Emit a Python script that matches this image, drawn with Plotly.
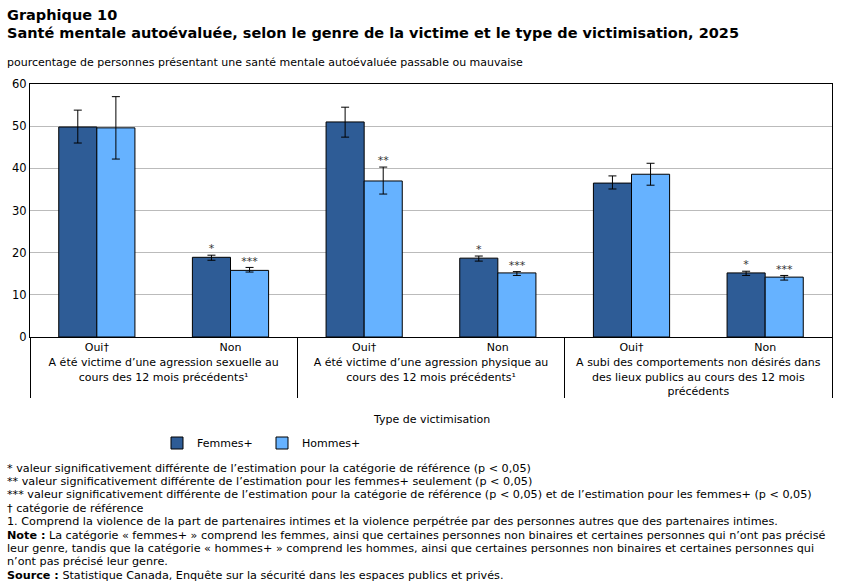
import plotly.graph_objects as go

# ---- data ----
groups = [
    "A été victime d’une agression sexuelle au<br>cours des 12 mois précédents¹",
    "A été victime d’une agression physique au<br>cours des 12 mois précédents¹",
    "A subi des comportements non désirés dans<br>des lieux publics au cours des 12 mois<br>précédents",
]
answers = ["Oui†", "Non"]
outer = [g for g in groups for _ in answers]
inner = [a for _ in groups for a in answers]

femmes = [49.8, 18.9, 51.0, 18.7, 36.5, 15.2]
femmes_hi = [53.8, 19.4, 54.5, 19.2, 38.2, 15.6]
femmes_lo = [46.0, 18.2, 47.4, 18.0, 35.1, 14.6]
femmes_sig = ["", "*", "", "*", "", "*"]

hommes = [49.6, 15.8, 37.0, 15.2, 38.6, 14.2]
hommes_hi = [57.0, 16.5, 40.3, 15.5, 41.2, 14.6]
hommes_lo = [42.2, 15.4, 33.9, 14.6, 36.0, 13.5]
hommes_sig = ["", "***", "**", "***", "", "***"]

y_ticks = [0, 10, 20, 30, 40, 50, 60]

title_lines = [
    "Graphique 10",
    "Santé mentale autoévaluée, selon le genre de la victime et le type de victimisation, 2025",
]
subtitle = "pourcentage de personnes présentant une santé mentale autoévaluée passable ou mauvaise"
x_title = "Type de victimisation"
footnote_lines = [
    "* valeur significativement différente de l’estimation pour la catégorie de référence (p &lt; 0,05)",
    "** valeur significativement différente de l’estimation pour les femmes+ seulement (p &lt; 0,05)",
    "*** valeur significativement différente de l’estimation pour la catégorie de référence (p &lt; 0,05) et de l’estimation pour les femmes+ (p &lt; 0,05)",
    "† catégorie de référence",
    "1. Comprend la violence de la part de partenaires intimes et la violence perpétrée par des personnes autres que des partenaires intimes.",
    "<b>Note :</b> La catégorie « femmes+ » comprend les femmes, ainsi que certaines personnes non binaires et certaines personnes qui n’ont pas précisé",
    "leur genre, tandis que la catégorie « hommes+ » comprend les hommes, ainsi que certaines personnes non binaires et certaines personnes qui",
    "n’ont pas précisé leur genre.",
    "<b>Source :</b> Statistique Canada, Enquête sur la sécurité dans les espaces publics et privés.",
]

FONT = "DejaVu Sans"
C_F = "#2E5C96"
C_H = "#66B2FF"

fig = go.Figure()
x = [outer, inner]
for name, vals, hi, lo, col, og in [
    ("Femmes+", femmes, femmes_hi, femmes_lo, C_F, "f"),
    ("Hommes+", hommes, hommes_hi, hommes_lo, C_H, "h"),
]:
    fig.add_trace(go.Bar(
        x=x, y=vals, name=name, offsetgroup=og,
        marker=dict(color=col, line=dict(color="black", width=1)),
        error_y=dict(type="data", symmetric=False,
                     array=[h - v for h, v in zip(hi, vals)],
                     arrayminus=[v - l for v, l in zip(vals, lo)],
                     color="black", thickness=1, width=4),
        hoverinfo="skip",
    ))

for sig, hi, og in [(femmes_sig, femmes_hi, "f"), (hommes_sig, hommes_hi, "h")]:
    fig.add_trace(go.Scatter(
        x=x, y=hi, text=sig, mode="text", offsetgroup=og,
        textposition="top center", showlegend=False, cliponaxis=False,
        textfont=dict(family=FONT, size=11, color="#333333"),
        hoverinfo="skip",
    ))

W, H = 850, 582
ML, MR, MT, MB = 30, 18, 84, 245
pw = W - ML - MR
ph = H - MT - MB

def px(xp):
    return (xp - ML) / pw

def py(yp):
    return (H - MB - yp) / ph

annotations = [
    dict(text="<b>%s</b>" % title_lines[0], xref="paper", yref="paper", x=px(5), y=py(15),
         xanchor="left", yanchor="middle", showarrow=False,
         font=dict(family=FONT, size=14.5, color="black")),
    dict(text="<b>%s</b>" % title_lines[1], xref="paper", yref="paper", x=px(5), y=py(33),
         xanchor="left", yanchor="middle", showarrow=False,
         font=dict(family=FONT, size=14.5, color="black")),
    dict(text=subtitle, xref="paper", yref="paper", x=px(5), y=py(62), xanchor="left",
         yanchor="middle", showarrow=False, font=dict(family=FONT, size=11)),
    dict(text=x_title, xref="paper", yref="paper", x=0.5, y=py(420),
         xanchor="center", yanchor="middle", showarrow=False, font=dict(family=FONT, size=11)),
]
for i, line in enumerate(footnote_lines):
    annotations.append(dict(
        text=line, xref="paper", yref="paper", x=px(5), y=py(468 + 13.4 * i),
        xanchor="left", yanchor="middle", align="left", showarrow=False,
        font=dict(family=FONT, size=11.2)))

fig.update_layout(
    width=W, height=H,
    margin=dict(l=ML, r=MR, t=MT, b=MB),
    paper_bgcolor="white", plot_bgcolor="white",
    font=dict(family=FONT, size=11, color="black"),
    barmode="group", bargap=0.43, bargroupgap=0,
    scattermode="group", scattergap=0.43,
    showlegend=True,
    legend=dict(orientation="h", x=px(157), xanchor="left", y=py(443), yanchor="middle",
                font=dict(family=FONT, size=11), entrywidth=60, itemwidth=30,
                bgcolor="rgba(0,0,0,0)"),
    xaxis=dict(
        type="multicategory", showline=True, linecolor="black", linewidth=1, mirror=True,
        showdividers=True, dividercolor="black", dividerwidth=1,
        tickfont=dict(family=FONT, size=11), ticks="", showgrid=False,
    ),
    yaxis=dict(
        range=[0, 60], tickvals=y_ticks, showline=True, linecolor="black", linewidth=1,
        mirror=True, gridcolor="#BBBBBB", gridwidth=1, zeroline=False,
        tickfont=dict(family=FONT, size=11.5), ticks="",
    ),
    annotations=annotations,
)

fig.write_html("out.html")
